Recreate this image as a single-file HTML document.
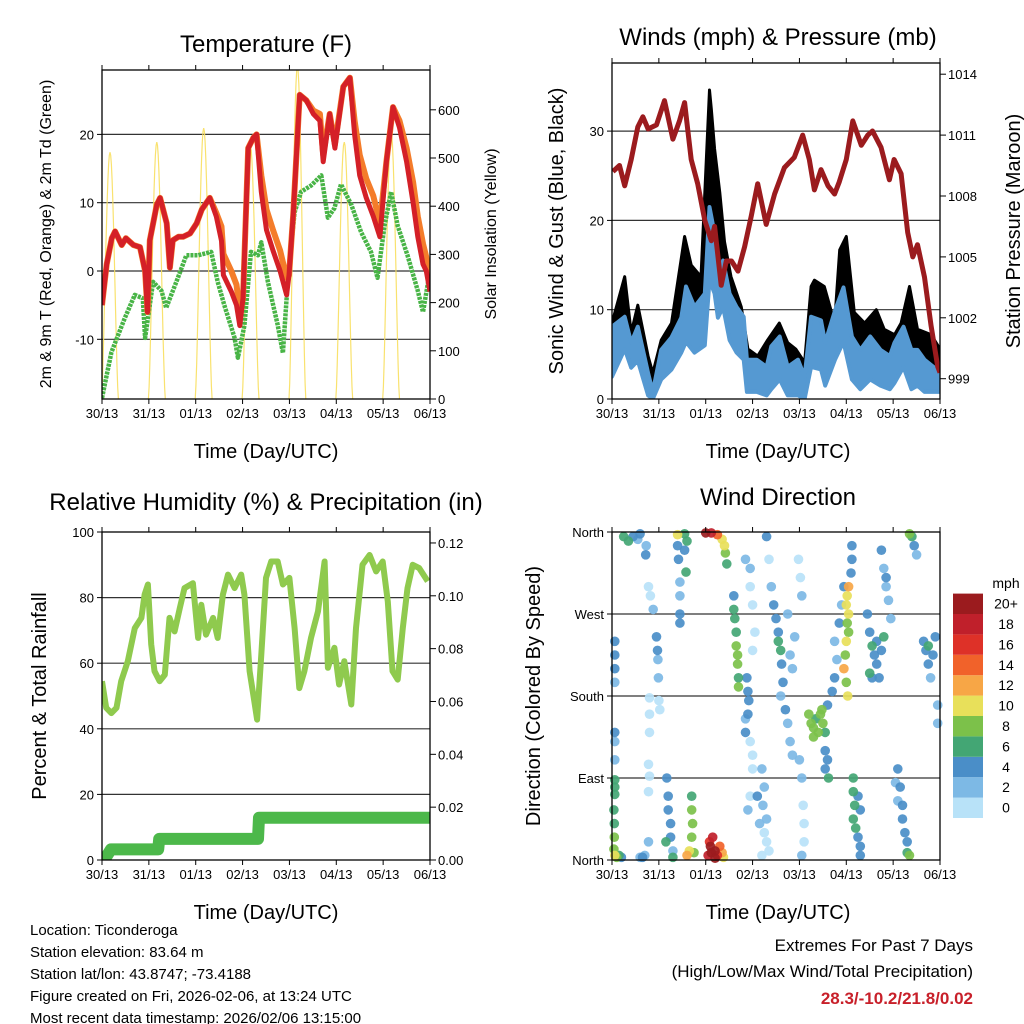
<!DOCTYPE html>
<html><head><meta charset="utf-8"><style>
html,body{margin:0;padding:0;background:#fff;}
svg{display:block;font-family:"Liberation Sans",sans-serif;}
</style></head><body>
<svg id="chart" width="1024" height="1024" viewBox="0 0 1024 1024" xmlns="http://www.w3.org/2000/svg">
<rect width="1024" height="1024" fill="#fff"/>
<g id="layer"></g>
<text x="266" y="52" font-size="24" text-anchor="middle">Temperature (F)</text>
<text x="778" y="45" font-size="24" text-anchor="middle">Winds (mph) &amp; Pressure (mb)</text>
<text x="266" y="510" font-size="24" text-anchor="middle">Relative Humidity (%) &amp; Precipitation (in)</text>
<text x="778" y="505" font-size="24" text-anchor="middle">Wind Direction</text>
<text x="266" y="458" font-size="20" text-anchor="middle">Time (Day/UTC)</text>
<text x="778" y="458" font-size="20" text-anchor="middle">Time (Day/UTC)</text>
<text x="266" y="919" font-size="20" text-anchor="middle">Time (Day/UTC)</text>
<text x="778" y="919" font-size="20" text-anchor="middle">Time (Day/UTC)</text>
<text transform="translate(51,234) rotate(-90)" font-size="16" text-anchor="middle">2m &amp; 9m T (Red, Orange) &amp; 2m Td (Green)</text>
<text transform="translate(496,234) rotate(-90)" font-size="16" text-anchor="middle">Solar Insolation (Yellow)</text>
<text transform="translate(563,231) rotate(-90)" font-size="20" text-anchor="middle">Sonic Wind &amp; Gust (Blue, Black)</text>
<text transform="translate(1020,231) rotate(-90)" font-size="20" text-anchor="middle">Station Pressure (Maroon)</text>
<text transform="translate(46,696) rotate(-90)" font-size="20" text-anchor="middle">Percent &amp; Total Rainfall</text>
<text transform="translate(540,696) rotate(-90)" font-size="20" text-anchor="middle">Direction (Colored By Speed)</text>
<g font-size="15">
<text x="30" y="935">Location: Ticonderoga</text>
<text x="30" y="957">Station elevation: 83.64 m</text>
<text x="30" y="979">Station lat/lon: 43.8747; -73.4188</text>
<text x="30" y="1001">Figure created on Fri, 2026-02-06, at 13:24 UTC</text>
<text x="30" y="1023">Most recent data timestamp: 2026/02/06 13:15:00</text>
</g>
<text x="973" y="951" font-size="17" text-anchor="end">Extremes For Past 7 Days</text>
<text x="973" y="977" font-size="17" text-anchor="end">(High/Low/Max Wind/Total Precipitation)</text>
<text x="973" y="1004" font-size="17" font-weight="bold" fill="#c8202a" text-anchor="end">28.3/-10.2/21.8/0.02</text>
</svg>
<script>
const NS='http://www.w3.org/2000/svg';
const dayLabels=['30/13','31/13','01/13','02/13','03/13','04/13','05/13','06/13'];
const tempDays=[0,0.1,0.21,0.28,0.42,0.51,0.67,0.81,0.92,0.97,1.02,1.17,1.24,1.38,1.45,1.51,1.63,1.73,1.88,2.02,2.13,2.30,2.44,2.55,2.59,2.76,2.87,2.94,3.01,3.12,3.23,3.30,3.40,3.51,3.65,3.80,3.94,3.99,4.08,4.22,4.36,4.51,4.65,4.72,4.86,4.97,5.15,5.29,5.39,5.50,5.64,5.79,5.93,6.07,6.21,6.35,6.50,6.64,6.74,6.85,6.92,7.0];
const tempRed=[-5,1,4.8,5.8,3.8,4.8,3.8,3.5,0,-6,4.5,9.7,10.7,7,0.5,4.5,5,5,5.5,7,9,10.7,8,4.4,-0.6,-3,-5,-8,-4,18,19.5,20,11.6,6,3,0,-3.5,-0.6,8.2,25.8,25,23,22,16,23,18,27,28.3,20,14,10.7,8,5,16,24,21,16,10,5,1,0,-3];
const tempOrange=[-5,1,4.8,5.8,3.8,4.8,3.8,3.5,0,-6,4.5,9.7,10.7,7,0.5,4.5,5,5,5.5,7,9,10.7,8.5,6.5,2.5,0,-2,-6,-4,18,19.5,20,14,9,6,3,-1,-0.6,8.2,25.8,25,23.5,23,17,23,18.5,27,28.3,22,17,13.5,11,7,16,24,22,18,13,8,4,2,-2];
const dewDays=[0,0.2,0.48,0.7,0.87,0.92,1.09,1.27,1.37,1.62,1.8,2.05,2.33,2.47,2.61,2.83,2.9,3.04,3.18,3.33,3.4,3.54,3.75,3.86,3.97,4.11,4.25,4.46,4.68,4.82,4.96,5.1,5.32,5.53,5.74,5.88,6.03,6.17,6.31,6.52,6.74,6.85,7.0];
const dewVals=[-18.6,-11.9,-7,-3.5,-4,-9.8,-1.6,-2.9,-5.4,-1,2.3,2.3,2.8,-1.6,-5,-9.8,-12.7,-8,2.8,2.3,4.2,-1.6,-7.9,-12,-1,8.6,11.6,12.5,14,7.8,9.2,12.7,9.7,5.7,2.8,-1,6.6,11.6,6.6,2.3,-2.9,-6,0];
const solarPeakDays=[0.17,1.17,2.17,3.17,4.17,5.17,6.17];
const solarPeaks=[512,533,562,523,690,533,554];
const presDays=[0.02,0.16,0.27,0.41,0.55,0.66,0.77,0.95,1.12,1.3,1.44,1.55,1.69,1.83,1.98,2.12,2.19,2.33,2.44,2.55,2.69,2.83,2.97,3.11,3.29,3.47,3.68,3.89,4.07,4.21,4.32,4.46,4.61,4.75,4.85,5.0,5.14,5.32,5.46,5.56,5.74,5.92,6.02,6.17,6.31,6.42,6.52,6.67,6.81,6.95,7.0];
const presVals=[1009.2,1009.5,1008.5,1009.8,1011.4,1011.9,1011.3,1011.5,1012.7,1010.8,1011.7,1012.6,1009.8,1008.6,1006.8,1005.8,1006.5,1003.6,1004.8,1004.8,1004.3,1005.5,1007,1008.6,1006.6,1008.1,1009.4,1009.9,1011,1009.8,1008.3,1009.3,1008.5,1008.1,1008.7,1009.8,1011.7,1010.5,1011,1011.2,1010.4,1008.8,1009.8,1009.1,1006.2,1005,1005.6,1004,1001.6,999.6,999.3];
const windDays=[0,0.27,0.41,0.55,0.77,0.87,1.05,1.27,1.48,1.58,1.76,1.98,2.08,2.19,2.26,2.37,2.51,2.66,2.81,2.88,3.09,3.3,3.4,3.58,3.75,3.97,4.11,4.25,4.46,4.55,4.76,4.94,5.12,5.3,5.51,5.73,5.93,6.03,6.22,6.39,6.52,6.67,7.0];
const windHi=[8.1,9.2,6.3,8.1,2.9,0.8,5.5,6.9,9.1,12.6,10.3,11.8,21.5,18.5,13.3,15.5,11.8,10.3,9.2,4.4,4.4,3.6,5.9,7,3.6,4.4,2.5,9.2,8.8,6.3,9.9,12.5,7,5.5,7,5.5,4.8,6.3,8.1,5.5,5.5,4.4,3];
const windLo=[2.5,5.6,3.5,4.3,0.4,0,2.2,3.3,5.2,6.4,5.2,6,13.3,11.8,9.1,10.3,6.6,5.2,4.4,0.8,0.8,0.4,1.1,2.2,0.4,0.4,0,3.6,3.3,1.5,4.4,6.4,2.2,1.1,2.2,1.5,1.1,1.8,3.6,1.1,1.5,0.8,0.8];
const gustDays=[0,0.27,0.41,0.55,0.77,0.87,1.05,1.27,1.55,1.69,1.9,2.08,2.12,2.19,2.3,2.4,2.54,2.76,2.9,3.11,3.32,3.57,3.75,3.92,4.11,4.25,4.32,4.53,4.75,4.86,5.0,5.17,5.39,5.64,5.81,6.03,6.17,6.35,6.52,6.81,7.0];
const gustVals=[8.5,13.7,7.4,10.5,4.8,2.9,6.6,8.5,18.2,15,13.7,34.6,32.5,28,23.1,17.6,13.7,10.3,5.6,4.8,6.6,8.5,6.3,5.6,4.1,12.6,13.3,12.6,8.5,16.7,18.2,9.7,8.5,10,7.8,7.2,8.5,12.6,7.8,7.2,5.6];
const rhDays=[0,0.09,0.2,0.31,0.41,0.55,0.7,0.84,0.91,0.98,1.05,1.12,1.23,1.34,1.44,1.55,1.66,1.76,1.94,2.05,2.12,2.22,2.37,2.47,2.58,2.69,2.83,2.97,3.04,3.15,3.25,3.31,3.4,3.5,3.61,3.75,3.86,4.0,4.11,4.21,4.32,4.46,4.61,4.75,4.82,4.96,5.06,5.17,5.32,5.42,5.56,5.71,5.85,5.99,6.1,6.2,6.31,6.42,6.52,6.63,6.77,6.95];
const rhVals=[54.5,46.4,44.8,46.4,54.5,60.6,70.7,73.8,80.9,84,65.8,57.6,54.5,56.5,73.8,69.7,76.8,82.9,84.4,67.7,77.8,68.7,73.8,67.7,80.9,87,82.9,87,80.9,57.6,48.4,42.8,62.6,86,91,91,84,86,70.7,52.4,57.6,67.7,75.8,91,58.6,64.7,53.5,60.6,47.4,70.7,90,93,88,91,78.8,57.6,55,70.7,82.9,90,89,85];
const precipDays=[0,0.05,0.19,1.2,1.22,3.33,3.35,7.0];
const precipVals=[0,0,0.004,0.004,0.008,0.008,0.016,0.016];
const dirDays=[0.06,0.06,0.06,0.06,0.06,0.06,0.06,0.06,0.06,0.06,0.04,0.05,0.05,0.04,0.06,0.1,0.15,0.2,0.25,0.35,0.45,0.55,0.6,0.73,0.72,0.78,0.82,0.88,0.95,0.97,0.98,0.99,1.0,1.02,0.8,0.8,0.8,0.78,0.8,0.78,0.78,0.7,0.65,0.6,1.17,1.2,1.2,1.25,1.25,1.3,1.3,1.15,1.4,1.42,1.45,1.45,1.45,1.45,1.4,1.55,1.6,1.55,1.58,1.7,1.7,1.72,1.7,1.65,1.6,1.75,2.05,2.1,2.12,2.15,2.2,2.25,2.3,2.35,2.38,2.2,2.08,2.0,2.12,2.25,2.35,2.4,2.42,2.45,2.6,2.6,2.62,2.65,2.65,2.68,2.68,2.7,2.7,2.88,2.9,2.92,2.9,2.85,2.85,2.85,2.95,2.95,3.0,3.05,3.0,2.95,3.0,3.0,2.95,2.9,3.2,3.25,3.22,3.3,3.25,3.3,3.35,3.2,3.15,3.1,3.3,3.35,3.4,3.45,3.5,3.55,3.55,3.6,3.62,3.65,3.6,3.7,3.75,3.8,3.85,3.8,3.85,3.9,3.75,3.98,4.02,4.05,4.0,4.05,4.08,4.1,4.1,4.05,4.2,4.25,4.3,4.35,4.4,4.45,4.5,4.55,4.48,4.3,4.55,4.6,4.55,4.62,4.6,4.7,4.75,4.8,4.75,4.85,4.9,4.95,5.0,5.05,5.02,5.05,5.0,4.98,4.95,5.0,5.03,5.05,5.02,5.12,5.12,5.1,5.15,5.15,5.18,5.15,5.2,5.25,5.3,5.3,5.25,5.3,5.45,5.5,5.55,5.6,5.65,5.7,5.75,5.8,5.55,5.65,5.5,5.75,5.8,5.85,5.9,5.95,5.85,6.1,6.15,6.2,6.2,6.25,6.3,6.3,6.35,6.05,6.1,6.35,6.4,6.45,6.5,6.65,6.7,6.75,6.8,6.85,6.9,6.75,6.95,6.95];
const dirDeg=[240,225,210,195,140,130,110,88,80,72,55,40,25,12,5,3,5,3,355,350,355,352,358,345,335,300,290,275,245,230,220,200,175,165,178,160,140,105,92,75,20,5,3,3,90,70,55,40,25,10,3,20,345,330,305,290,270,260,357,358,350,340,316,70,55,40,25,10,5,8,5,15,8,25,10,5,15,8,3,2,20,359,359,357,352,345,337,325,290,275,265,250,235,225,215,200,190,200,185,175,160,140,155,330,300,320,280,250,230,130,115,100,70,55,100,80,60,45,30,20,10,5,40,70,355,330,300,280,265,250,240,230,215,195,180,165,150,130,115,225,210,245,270,330,310,290,110,90,60,40,20,5,160,150,145,155,140,160,150,140,165,135,120,110,100,90,170,185,200,220,240,260,280,300,280,270,260,250,240,225,210,195,180,300,290,345,330,315,90,75,60,45,35,25,15,5,70,55,270,250,235,225,215,200,230,245,200,240,205,340,320,300,285,265,310,100,80,60,45,30,20,8,5,85,65,358,355,345,335,240,230,215,200,225,245,235,170,150];
const dirSpd=[4,4,4,2,4,2,2,6,6,6,6,6,8,8,10,8,6,4,6,6,4,2,4,2,4,0,0,2,4,4,2,2,0,0,0,0,0,0,0,0,2,2,4,2,4,4,4,4,4,2,6,6,4,4,2,2,4,4,10,6,6,4,6,6,8,8,8,10,12,8,18,20,20,18,20,16,14,12,10,20,16,20,18,14,10,10,8,6,4,6,6,6,8,8,8,6,8,4,4,4,4,4,2,2,0,2,0,0,0,0,0,0,0,2,2,2,2,2,0,0,0,0,2,4,4,0,2,4,4,4,6,6,4,4,2,4,2,2,2,2,2,2,2,0,0,2,2,2,0,0,0,2,8,8,8,6,8,8,8,6,8,8,4,4,4,6,4,4,4,2,2,4,2,4,10,10,8,8,10,8,12,8,10,12,10,4,4,4,6,6,6,6,6,4,4,4,4,4,4,4,6,4,4,4,4,6,4,4,6,4,2,2,2,2,4,4,4,4,4,4,4,6,8,2,2,8,6,4,2,4,4,4,2,4,4,6,2,2];
const speedClasses=[0,2,4,6,8,10,12,14,16,18,20];
const speedLabels=['0','2','4','6','8','10','12','14','16','18','20+'];
const speedColors=['#b8e2f8','#7db9e5','#4a8ec8','#43a674','#7cc14a','#e8e05a','#f7a646','#f1622a','#de3128','#c0202b','#9b1b1e'];
const tempTicks=[-10,0,10,20];
const solarTicks=[0,100,200,300,400,500,600];
const windTicks=[0,10,20,30];
const presTicks=[999,1002,1005,1008,1011,1014];
const rhTicks=[0,20,40,60,80,100];
const precipTicks=[0,0.02,0.04,0.06,0.08,0.10,0.12];
const dirTicks=[0,90,180,270,360];
const dirTickLabels=['North','East','South','West','North'];

const layer=document.getElementById('layer');
function mk(tag,attrs,parent){const e=document.createElementNS(NS,tag);for(const k in attrs)e.setAttribute(k,attrs[k]);(parent||layer).appendChild(e);return e;}
function xs(p,d){return p.x0+d*(p.x1-p.x0)/7;}
function pathOf(p,days,vals,ys){const n=Math.min(days.length,vals.length);let s='';for(let i=0;i<n;i++){s+=(i?'L':'M')+xs(p,days[i]).toFixed(1)+' '+ys(vals[i]).toFixed(1)+' ';}return s;}
function revPath(p,days,vals,ys){const n=Math.min(days.length,vals.length);let s='';for(let i=n-1;i>=0;i--){s+='L'+xs(p,days[i]).toFixed(1)+' '+ys(vals[i]).toFixed(1)+' ';}return s;}
const P1={x0:102,x1:430,y0:70,y1:399};
const P2={x0:612,x1:940,y0:63,y1:399};
const P3={x0:102,x1:430,y0:532,y1:860};
const P4={x0:612,x1:940,y0:532,y1:860};
const yT=v=>271-v*6.83, yS=v=>399-v*0.482, yW=v=>399-v*8.93, yP=v=>399-(v-998)*20.3;
const yR=v=>860-v*3.28, yPr=v=>860-v*2642, yD=v=>860-v*328/360;

function clip(p,id){const c=mk('clipPath',{id:id});mk('rect',{x:p.x0,y:p.y0,width:p.x1-p.x0,height:p.y1-p.y0},c);return 'url(#'+id+')';}
function grid(p,ticks,ys,name){const g=mk('g',{});
 ticks.forEach(t=>{const y=ys(t);if(y>p.y0+1&&y<p.y1-1){const l=mk('line',{x1:p.x0,x2:p.x1,y1:y,y2:y,stroke:'#333','stroke-width':1.2},g);}});}
function frame(p,leftTicks,leftLabels,ys,rightTicks,rightLabels,ys2,name){
 const g=mk('g',{'font-size':13});
 mk('rect',{x:p.x0,y:p.y0,width:p.x1-p.x0,height:p.y1-p.y0,fill:'none',stroke:'#000','stroke-width':1.3},g);
 for(let i=0;i<=7;i++){const x=xs(p,i);
  mk('line',{x1:x,x2:x,y1:p.y1,y2:p.y1+5,stroke:'#000'},g);mk('line',{x1:x,x2:x,y1:p.y0,y2:p.y0-5,stroke:'#000'},g);
  const t=mk('text',{x:x,y:p.y1+19,'text-anchor':'middle','font-size':13},g);t.textContent=dayLabels[i];
  }
 leftTicks.forEach((v,i)=>{const y=ys(v);mk('line',{x1:p.x0-5,x2:p.x0,y1:y,y2:y,stroke:'#000'},g);
  const t=mk('text',{x:p.x0-8,y:y+5,'text-anchor':'end','font-size':13},g);t.textContent=leftLabels[i];
  });
 if(rightTicks){rightTicks.forEach((v,i)=>{const y=ys2(v);mk('line',{x1:p.x1,x2:p.x1+6,y1:y,y2:y,stroke:'#000'},g);
  const t=mk('text',{x:p.x1+8,y:y+5,'font-size':13},g);t.textContent=rightLabels[i];
  });}
}
// Panel 1
const c1=clip(P1,'c1');
grid(P1,tempTicks,yT,'temp-grid');
const sol=mk('g',{'clip-path':c1});
solarPeakDays.forEach((d,i)=>{let s='';for(let k=0;k<=24;k++){const dd=d-0.18+k*0.015;const v=solarPeaks[i]*Math.pow(Math.sin(Math.PI*k/24),1.5);s+=(k?'L':'M')+xs(P1,dd).toFixed(1)+' '+yS(v).toFixed(1);}
 const e=mk('path',{d:s,fill:'none',stroke:'#f8df5e','stroke-width':1.2,opacity:0.9},sol);});
const g1=mk('g',{'clip-path':c1});
let e=mk('path',{d:pathOf(P1,dewDays,dewVals,yT),fill:'none',stroke:'#48b446','stroke-width':4.5,'stroke-linejoin':'round','stroke-dasharray':'3 1'},g1);

e=mk('path',{d:pathOf(P1,tempDays,tempOrange,yT),fill:'none',stroke:'#f47c2a','stroke-width':6,'stroke-linejoin':'round'},g1);

e=mk('path',{d:pathOf(P1,tempDays,tempRed,yT),fill:'none',stroke:'#d42027','stroke-width':5,'stroke-linejoin':'round'},g1);

frame(P1,tempTicks,tempTicks.map(String),yT,solarTicks,solarTicks.map(String),yS,'temperature-axes');
// Panel 2
const c2=clip(P2,'c2');
grid(P2,windTicks,yW,'wind-grid');
const g2=mk('g',{'clip-path':c2});
e=mk('path',{d:pathOf(P2,gustDays,gustVals,yW)+revPath(P2,windDays,windLo,yW)+'Z',fill:'#000',stroke:'#000','stroke-width':3,'stroke-linejoin':'round'},g2);

e=mk('path',{d:pathOf(P2,windDays,windHi,yW)+revPath(P2,windDays,windLo,yW)+'Z',fill:'#5599d2',stroke:'#5599d2','stroke-width':4,'stroke-linejoin':'round'},g2);

e=mk('path',{d:pathOf(P2,presDays,presVals,yP),fill:'none',stroke:'#9b1b1e','stroke-width':5,'stroke-linejoin':'round'},g2);

frame(P2,windTicks,windTicks.map(String),yW,presTicks,presTicks.map(String),yP,'wind-axes');
// Panel 3
const c3=clip(P3,'c3');
grid(P3,rhTicks,yR,'rh-grid');
const g3=mk('g',{'clip-path':c3});
e=mk('path',{d:pathOf(P3,rhDays,rhVals,yR),fill:'none',stroke:'#8fca4e','stroke-width':6,'stroke-linejoin':'round'},g3);

e=mk('path',{d:pathOf(P3,precipDays,precipVals,yPr),fill:'none',stroke:'#4cb84a','stroke-width':12,'stroke-linecap':'round','stroke-linejoin':'round'},g3);

frame(P3,rhTicks,rhTicks.map(String),yR,precipTicks,precipTicks.map(v=>v.toFixed(2)),yPr,'humidity-axes');
// Panel 4
grid(P4,dirTicks,yD,'dir-grid');
const g4=mk('g',{});

const nDir=Math.min(dirDays.length,dirDeg.length,dirSpd.length);
const order=[];for(let i=0;i<nDir;i++)order.push(i);
order.sort((a,b)=>dirSpd[a]-dirSpd[b]);
order.forEach(i=>{const ci=Math.min(10,Math.round(dirSpd[i]/2));
 const c=mk('circle',{cx:xs(P4,dirDays[i]).toFixed(1),cy:yD(dirDeg[i]).toFixed(1),r:4.8,fill:speedColors[ci],opacity:0.92},g4);
 
 });
frame(P4,dirTicks,dirTickLabels,yD,null,null,null,'direction-axes');
// Colorbar
const cb=mk('g',{});
const mph=mk('text',{x:1006,y:588,'font-size':14,'text-anchor':'middle'},cb);mph.textContent='mph';

speedClasses.forEach((s,i)=>{const y=818-(i+1)*20.4;
 const r=mk('rect',{x:953,y:y,width:30,height:20.4,fill:speedColors[i]},cb);
 
 
 const t=mk('text',{x:1006,y:y+15,'font-size':14,'text-anchor':'middle'},cb);t.textContent=speedLabels[i];
 
 });
</script>
</body></html>
